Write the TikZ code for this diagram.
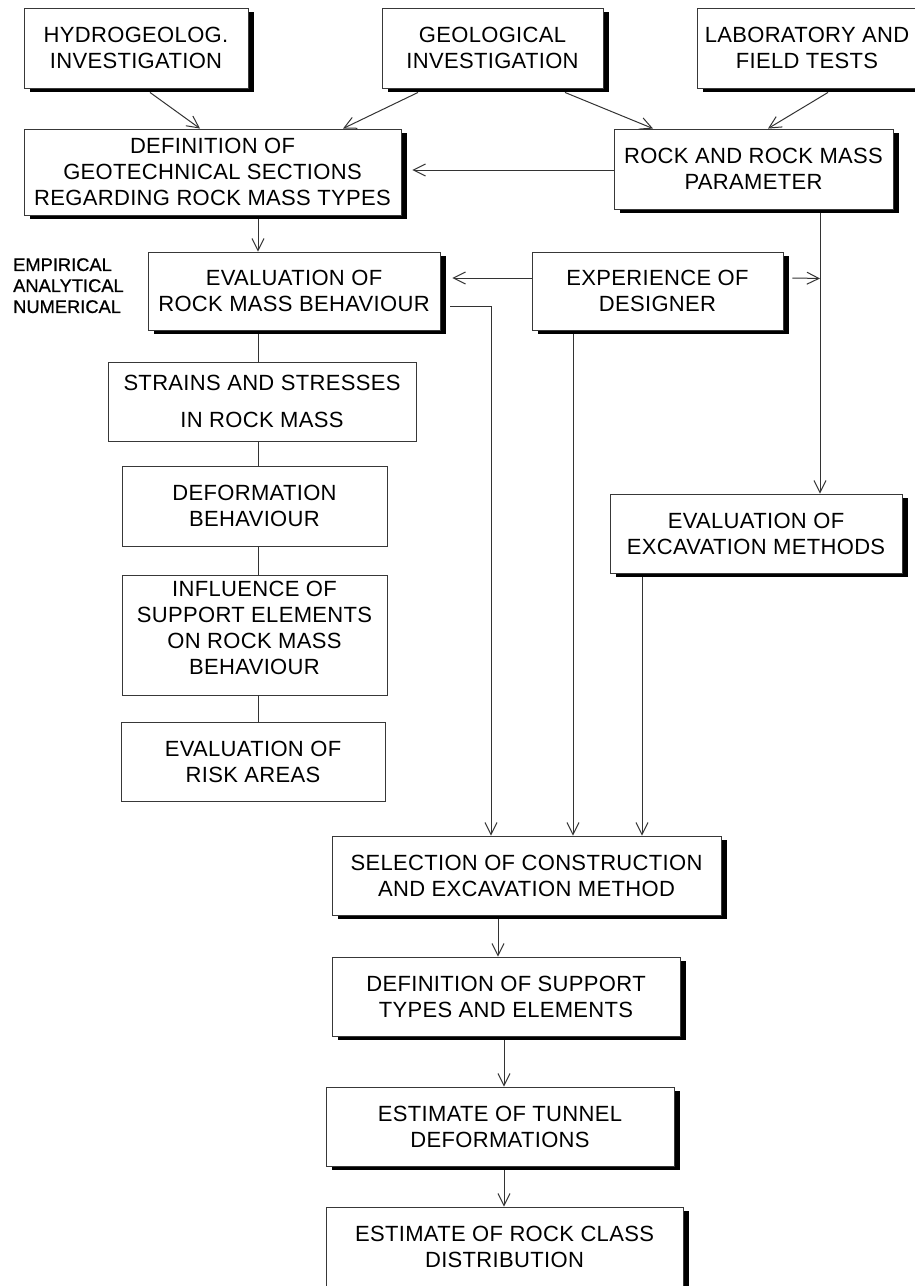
\documentclass[tikz,border=0pt]{standalone}
\usepackage{fontspec}
\setmainfont{Liberation Sans}
\newfontfamily\labfont[FakeBold=0.7]{Liberation Sans}
\usetikzlibrary{arrows.meta,shadows,calc}
\tikzset{
  boxbase/.style={draw=black!78, line width=0.9pt, fill=white, inner sep=0pt, align=center,
    font=\fontsize{22}{26}\selectfont\addfontfeatures{LetterSpace=1.5}},
  sbox/.style={boxbase, general shadow={fill=black, shadow xshift=6pt, shadow yshift=-4pt}},
  pbox/.style={boxbase},
  conn/.style={draw=black!80, line width=1pt},
  arr/.style={conn, -{Straight Barb[length=12pt,width=12pt,line width=1pt]}},
}
\begin{document}
\begin{tikzpicture}[x=1pt,y=-1pt]
\useasboundingbox (0,0) rectangle (915,1286);
\clip (0,0) rectangle (915,1286);
\fill[white] (0,0) rectangle (915,1286);

% top row
\node[sbox, minimum width=224pt, minimum height=80pt] (hyd) at (136,48) {HYDROGEOLOG.\\INVESTIGATION};
\node[sbox, minimum width=221pt, minimum height=80pt] (geo) at (492.5,48) {GEOLOGICAL\\INVESTIGATION};
\node[sbox, minimum width=220pt, minimum height=80pt] (lab) at (807,48) {LABORATORY AND\\FIELD TESTS};

% second row
\node[sbox, minimum width=377pt, minimum height=86pt] (defs) at (212.5,172) {DEFINITION OF\\GEOTECHNICAL SECTIONS\\REGARDING ROCK MASS TYPES};
\node[sbox, minimum width=279pt, minimum height=80pt] (par) at (753.5,169) {ROCK AND ROCK MASS\\PARAMETER};

% third row
\node[sbox, minimum width=292pt, minimum height=78pt] (evr) at (294,291) {EVALUATION OF\\ROCK MASS BEHAVIOUR};
\node[sbox, minimum width=251pt, minimum height=78pt] (exp) at (657.5,291) {EXPERIENCE OF\\DESIGNER};
\node[anchor=north west, inner sep=0pt, align=left, font=\labfont\fontsize{18.3}{21}\selectfont] (meth) at (13,258) {EMPIRICAL\\ANALYTICAL\\NUMERICAL};

% left column
\node[pbox, minimum width=308pt, minimum height=79pt] (str) at (262,401.5) {STRAINS AND STRESSES\\[11pt]IN ROCK MASS};
\node[pbox, minimum width=265pt, minimum height=80pt] (dfm) at (254.5,506) {DEFORMATION\\BEHAVIOUR};
\node[pbox, minimum width=265pt, minimum height=120pt] (inf) at (254.5,635) {INFLUENCE OF\\SUPPORT ELEMENTS\\ON ROCK MASS\\BEHAVIOUR\\[-12pt]\mbox{}};
\node[pbox, minimum width=264pt, minimum height=79pt] (rsk) at (253,761.5) {EVALUATION OF\\RISK AREAS};

% right column
\node[sbox, minimum width=292pt, minimum height=79pt] (exc) at (756,533.5) {EVALUATION OF\\EXCAVATION METHODS};

% bottom column
\node[sbox, minimum width=389pt, minimum height=79pt] (sel) at (526.5,875.5) {SELECTION OF CONSTRUCTION\\AND EXCAVATION METHOD};
\node[sbox, minimum width=348pt, minimum height=79pt] (sup) at (506,996.5) {DEFINITION OF SUPPORT\\TYPES AND ELEMENTS};
\node[sbox, minimum width=348pt, minimum height=79pt] (tun) at (500,1126.5) {ESTIMATE OF TUNNEL\\DEFORMATIONS};
\node[sbox, minimum width=357pt, minimum height=80pt] (rcl) at (504.5,1247) {ESTIMATE OF ROCK CLASS\\DISTRIBUTION};

% connectors
\draw[arr] ($(hyd.south)+(14,4)$) -- ($(defs.north)+(-12.5,0)$);
\draw[arr] ($(geo.south)+(-74.5,4)$) -- ($(defs.north)+(130.5,0)$);
\draw[arr] ($(geo.south)+(72.5,4)$) -- ($(par.north)+(-100.5,0)$);
\draw[arr] ($(lab.south)+(21,4)$) -- ($(par.north)+(14.5,0)$);
\draw[arr] ($(par.west)+(0,1)$) -- ($(defs.east)+(11,-2)$);
\draw[arr] ($(evr.north)+(-36,-33)$) -- ($(evr.north)+(-36,0)$);
\draw[arr] ($(exp.west)+(0,-13)$) -- ($(evr.east)+(12,-13)$);
\draw[arr] ($(exp.east)+(9,-13)$) -- ($(par.south)+(66.5,69)$);
\draw[arr] ($(par.south)+(66.5,4)$) -- ($(exc.north)+(64,0)$);
\draw[arr] ($(evr.east)+(10,15)$) -| ($(sel.north)+(-35.5,0)$);
\draw[arr] ($(exp.south)+(-84.5,4)$) -- ($(sel.north)+(46.5,0)$);
\draw[arr] ($(exc.south)+(-114,4)$) -- ($(sel.north)+(115.5,0)$);
\draw[conn] ($(evr.south)+(-36,4)$) -- ($(str.north)+(-4,0)$);
\draw[conn] ($(str.south)+(-4,0)$) -- ($(dfm.north)+(3.5,0)$);
\draw[conn] ($(dfm.south)+(3.5,0)$) -- ($(inf.north)+(3.5,0)$);
\draw[conn] ($(inf.south)+(3.5,0)$) -- ($(rsk.north)+(5,0)$);
\draw[arr] ($(sel.south)+(-28.5,4)$) -- ($(sup.north)+(-8,0)$);
\draw[arr] ($(sup.south)+(-2,4)$) -- ($(tun.north)+(4,0)$);
\draw[arr] ($(tun.south)+(4,4)$) -- ($(rcl.north)+(-0.5,0)$);
\end{tikzpicture}
\end{document}
